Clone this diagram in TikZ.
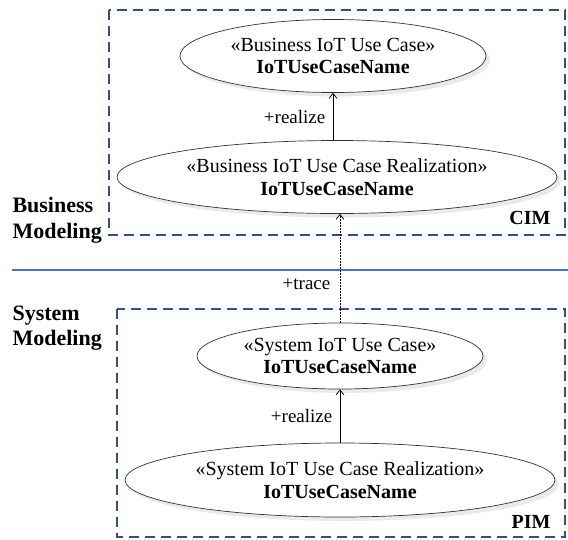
\documentclass[tikz,border=0pt]{standalone}
\usepackage{fontspec}
\setmainfont{Liberation Serif}
\usetikzlibrary{shapes.geometric,shadows,arrows.meta}
\definecolor{boxblue}{HTML}{2F5088}
\definecolor{lineblue}{HTML}{4472C4}
\begin{document}
\begin{tikzpicture}[x=1pt,y=-1pt,
  uc/.style={ellipse,draw=black!80,line width=0.7pt,fill=white,inner sep=0pt,
    minimum width=#1,align=center,font=\fontsize{20}{22.5}\selectfont,
    drop shadow={shadow xshift=4pt,shadow yshift=-4pt,fill=black!10,opacity=0.8}},
  frame/.style={draw=boxblue,line width=1.5pt,dash pattern=on 10pt off 6pt},
  lbl/.style={font=\fontsize{19}{21}\selectfont},
  side/.style={font=\bfseries\fontsize{22}{25.5}\selectfont,align=left,anchor=west},
  conn/.style={line width=0.7pt,-{Straight Barb[length=5pt,width=8pt]}}]
\useasboundingbox (0,0) rectangle (568,539);
\path[frame] (109,10) rectangle (565,235);
\path[frame] (117,309) rectangle (565,537);
\draw[lineblue,line width=1.6pt] (12,270) -- (568,270);
\node[uc=306pt,minimum height=73pt] (buc) at (333,56) {«Business IoT Use Case»\\\textbf{IoTUseCaseName}};
\node[uc=440pt,minimum height=73pt] (bucr) at (337,177) {«Business IoT Use Case Realization»\\\textbf{IoTUseCaseName}};
\node[uc=286pt,minimum height=66pt] (suc) at (340,356) {«System IoT Use Case»\\\textbf{IoTUseCaseName}};
\node[uc=430pt,minimum height=74pt] (sucr) at (340,480) {«System IoT Use Case Realization»\\\textbf{IoTUseCaseName}};
\draw[conn] (bucr.north -| buc.south) -- (buc.south) node[lbl,midway,left=4pt] {+realize};
\draw[conn] (sucr.north -| suc.south) -- (suc.south) node[lbl,midway,left=4pt] {+realize};
\draw[conn,dash pattern=on 1.5pt off 1.5pt] (suc.north) -- (suc.north |- bucr.south) node[lbl,pos=0.355,left=6pt] {+trace};
\node[font=\bfseries\fontsize{20}{22}\selectfont,anchor=east] (cim) at (554,218) {CIM};
\node[font=\bfseries\fontsize{20}{22}\selectfont,anchor=east] (pim) at (554,522) {PIM};
\node[side] (bm) at (9,220.5) {Business\\Modeling};
\node[side] (sm) at (9,328) {System\\Modeling};
\end{tikzpicture}
\end{document}
